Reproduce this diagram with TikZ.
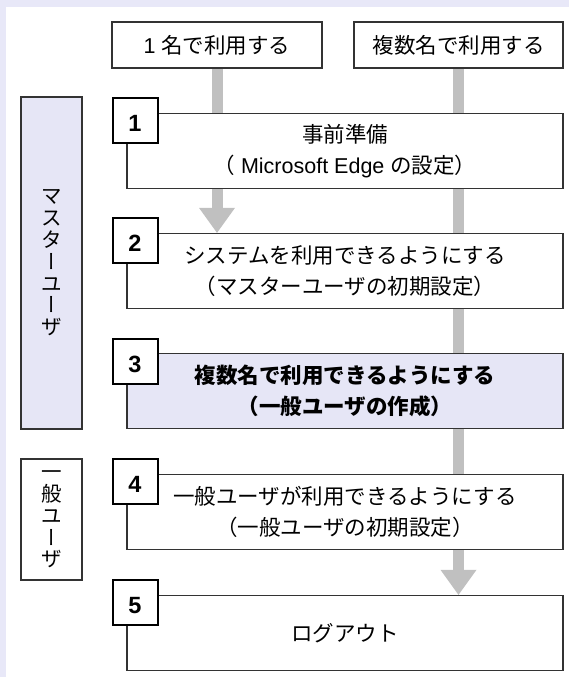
\documentclass[tikz,border=0pt]{standalone}
\usepackage{fontspec}
\setmainfont{Liberation Sans}
\newfontfamily\lat{Liberation Sans}
\newfontfamily\jp{Noto Sans CJK JP}
\newfontfamily\jpv{Noto Sans CJK JP}[RawFeature=+vert]
\usetikzlibrary{arrows.meta}
\definecolor{lav}{RGB}{232,232,248}
\definecolor{boxlav}{RGB}{230,230,246}
\definecolor{flowgray}{RGB}{192,192,192}
\definecolor{edgec}{RGB}{51,51,51}
\pgfdeclarelayer{back}
\pgfdeclarelayer{mid}
\pgfsetlayers{back,mid,main}
\begin{document}
\begin{tikzpicture}[x=1pt,y=-1pt,
  headbox/.style={draw=edgec, line width=1.3pt, fill=white, minimum width=210pt, minimum height=46pt, inner sep=0pt, font={\jp\fontsize{21.5}{28}\selectfont}},
  mainbox/.style={draw=edgec, line width=1.3pt, fill=white, minimum width=436pt, minimum height=75pt, inner sep=0pt, align=center, font={\jp\fontsize{21.5}{31}\selectfont}},
  numbox/.style={draw=black, line width=2pt, fill=white, minimum width=45pt, minimum height=45pt, inner sep=0pt, text height=22pt, text depth=0pt, font={\lat\bfseries\fontsize{23.5}{26}\selectfont}},
  rolebox/.style={draw=edgec, line width=1.3pt, minimum width=61pt, inner sep=0pt, align=center, font={\jp\fontsize{20.5}{21.8}\selectfont}},
  flow/.style={draw=flowgray, line width=11pt, -{Triangle[width=36pt,length=25pt,line width=0pt]}}
]
\useasboundingbox (0,0) rectangle (569,677);
\begin{pgfonlayer}{back}
  \fill[lav] (0,0) rectangle (569,677);
  \fill[white] (6,7) rectangle (569,677);
\end{pgfonlayer}

% header boxes
\node[headbox] (t1) at (217,45) {{\lat 1 }名で利用する};
\node[headbox, minimum width=209pt] (t2) at (458.5,45) {複数名で利用する};

% role boxes
\node[rolebox, fill=boxlav, minimum height=332pt] (r1) at (51.5,263)
  {マ\\ス\\タ\\{\jpv ー}\\ユ\\{\jpv ー}\\ザ};
\node[rolebox, fill=white, minimum height=121pt] (r2) at (51.5,519.5)
  {{\jpv 一}\\般\\ユ\\{\jpv ー}\\ザ};

% step boxes
\node[mainbox] (b1) at (345,151) {事前準備\\（{\lat\ Microsoft Edge }の設定）};
\node[mainbox] (b2) at (345,271) {システムを利用できるようにする\\（マスターユーザの初期設定）};
\node[mainbox, fill=boxlav, font={\jp\bfseries\fontsize{21.5}{31}\selectfont}] (b3) at (345,391) {複数名で利用できるようにする\\（一般ユーザの作成）};
\node[mainbox] (b4) at (345,512) {一般ユーザが利用できるようにする\\（一般ユーザの初期設定）};
\node[mainbox] (b5) at (345,633) {ログアウト};

% number squares
\node[numbox] (n1) at (135,120) {1};
\node[numbox] (n2) at (135,240.5) {2};
\node[numbox] (n3) at (135,361) {3};
\node[numbox] (n4) at (135,481.5) {4};
\node[numbox] (n5) at (135,602) {5};

% flow connectors
\begin{pgfonlayer}{mid}
  \draw[flow] (t1.south) -- (t1.south |- b2.north);
  \draw[flow] (t2.south) -- (t2.south |- b5.north);
\end{pgfonlayer}
\end{tikzpicture}
\end{document}
